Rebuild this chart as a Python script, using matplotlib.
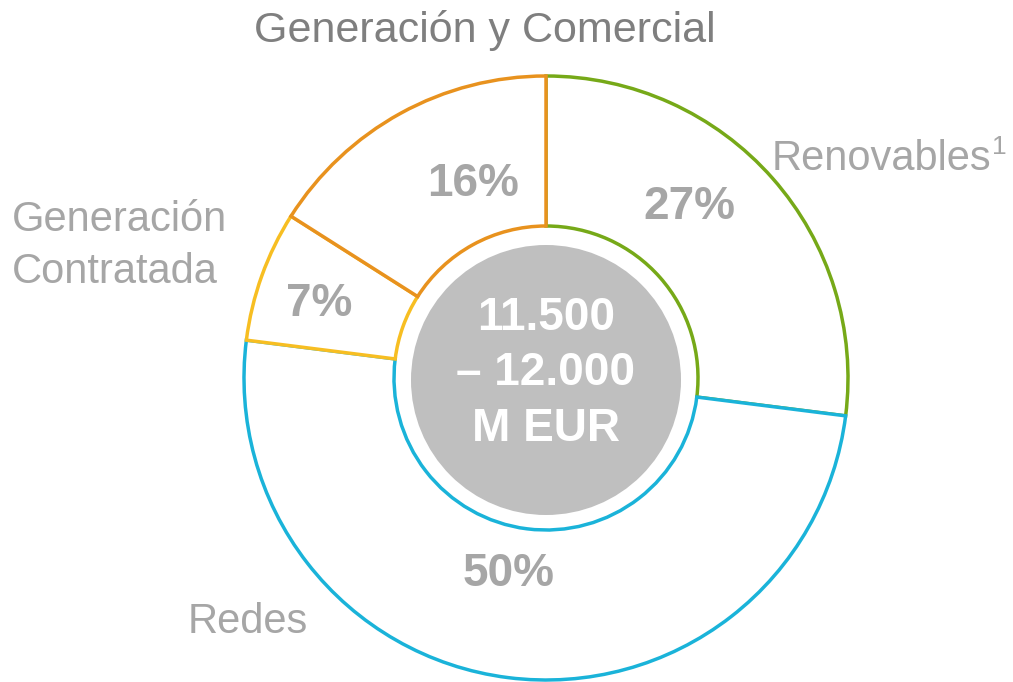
import matplotlib
matplotlib.use("Agg")
import matplotlib.pyplot as plt
from matplotlib.patches import Circle

plt.rcParams['font.family'] = ['Liberation Sans', 'DejaVu Sans']

# datos (sentido horario desde arriba)
segmentos = ["Renovables", "Redes", "Generación Contratada", "Generación y Comercial"]
valores = [27, 50, 7, 16]
etiquetas_pct = ["27%", "50%", "7%", "16%"]
colores = ["#76a918", "#1ab3d9", "#f7be22", "#e8921e"]
total_lineas = ["11.500", "– 12.000", "M EUR"]

W, H = 1013, 682
fig = plt.figure(figsize=(W / 100, H / 100), dpi=100)
ax = fig.add_axes([0, 0, 1, 1])

cx, cy = 546, 378
r_out, r_in = 302, 152

# con eje y invertido, counterclock=True dibuja en sentido horario en pantalla
wedges, _ = ax.pie(valores, startangle=-90, counterclock=True, radius=r_out,
                   center=(cx, cy), frame=True,
                   wedgeprops=dict(width=r_out - r_in, facecolor="white",
                                   linewidth=2.5))
for w, c in zip(wedges, colores):
    w.set_edgecolor(c)
ax.set_xlim(0, W)
ax.set_ylim(H, 0)
ax.set_aspect("equal")
ax.axis("off")

ax.add_patch(Circle((cx, 380), 135, facecolor="#bfbfbf", edgecolor="none", zorder=5))
for y, t in zip([330, 385, 441], total_lineas):
    ax.text(cx, y, t, ha="center", va="baseline", color="white",
            fontsize=33, fontweight="bold", zorder=6)

# porcentajes
pct_pos = [(689, 207), (509, 574), (319, 304), (473, 184)]
for (x, y), t in zip(pct_pos, etiquetas_pct):
    ax.text(x, y, t, ha="center", va="center", color="#a6a6a6",
            fontsize=33, fontweight="bold")

# etiquetas
gris = "#a6a6a6"
ren = ax.text(772, 170, "Renovables", ha="left", va="baseline", color=gris, fontsize=30)
ax.annotate("1", xy=(1, 1), xycoords=ren, xytext=(0, 3), textcoords="offset points",
            ha="left", va="top", color=gris, fontsize=19)
ax.text(12, 283, "Generación\nContratada", ha="left", va="baseline", color=gris,
        fontsize=30, linespacing=1.38)
ax.text(188, 633, "Redes", ha="left", va="baseline", color=gris, fontsize=30)
ax.text(485, 42, "Generación y Comercial", ha="center", va="baseline",
        color="#7f7f7f", fontsize=31)

fig.savefig("out.png", dpi=100)
